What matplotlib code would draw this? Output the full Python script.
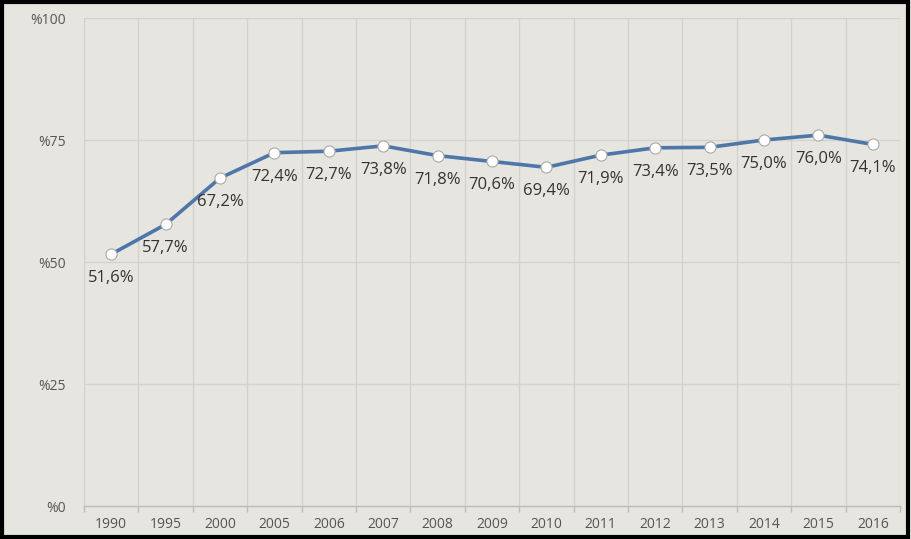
import matplotlib
matplotlib.use("Agg")
import matplotlib.pyplot as plt
from matplotlib.patches import Rectangle
from matplotlib.ticker import FixedLocator, FuncFormatter

# share of the population, one value per year
YEARS = ["1990", "1995", "2000", "2005", "2006", "2007", "2008", "2009",
         "2010", "2011", "2012", "2013", "2014", "2015", "2016"]
SHARE = [51.6, 57.7, 67.2, 72.4, 72.7, 73.8, 71.8, 70.6,
         69.4, 71.9, 73.4, 73.5, 75.0, 76.0, 74.1]
Y_TICKS = [0, 25, 50, 75, 100]

BACKGROUND = "#e6e5df"
GRID = "#d3d3cd"
LINE = "#4f76a9"
TEXT = "#333333"
AXIS_TEXT = "#555555"

plt.rcParams["font.family"] = ["Open Sans", "DejaVu Sans"]


def main():
    fig = plt.figure(figsize=(9.12, 5.39), dpi=100, facecolor=BACKGROUND)
    ax = fig.add_axes([84 / 912, 33 / 539, 816 / 912, 488 / 539])
    ax.set_facecolor(BACKGROUND)

    x = list(range(len(YEARS)))
    ax.plot(x, SHARE, color=LINE, linewidth=2.6, zorder=3,
            marker="o", markersize=8, markerfacecolor="white",
            markeredgecolor="#a9a9a9", markeredgewidth=0.8)

    # value labels sit just under each point, with a decimal comma
    for xi, value in zip(x, SHARE):
        label = f"{value:.1f}%".replace(".", ",")
        ax.annotate(label, (xi, value), xytext=(0, -24), textcoords="offset pixels",
                    ha="center", va="center", fontsize=12, color=TEXT, zorder=4)

    ax.set_xlim(-0.5, len(YEARS) - 0.5)
    ax.set_ylim(0, 100)

    ax.set_xticks(x)
    ax.set_xticklabels(YEARS)
    ax.xaxis.set_minor_locator(FixedLocator([i - 0.5 for i in range(len(YEARS) + 1)]))
    ax.tick_params(axis="x", which="major", length=0, pad=8,
                   labelsize=10, labelcolor=AXIS_TEXT)
    ax.tick_params(axis="x", which="minor", length=4, width=1, color="#bdbdb7")

    ax.set_yticks(Y_TICKS)
    ax.yaxis.set_major_formatter(FuncFormatter(lambda v, _: f"%{v:.0f}"))
    ax.tick_params(axis="y", length=0, pad=13, labelsize=10, labelcolor=AXIS_TEXT)

    ax.grid(axis="y", which="major", color=GRID, linewidth=1)
    ax.grid(axis="x", which="minor", color=GRID, linewidth=1)
    ax.set_axisbelow(True)

    for side in ("top", "right", "left"):
        ax.spines[side].set_visible(False)
    ax.spines["bottom"].set_color("#bdbdb7")
    ax.spines["bottom"].set_linewidth(1)

    # dark frame around the whole figure
    fig.patches.append(Rectangle((0.002, 0.004), 0.994, 0.992, transform=fig.transFigure,
                                 fill=False, edgecolor="black", linewidth=3))

    fig.savefig("out.png", dpi=100, facecolor=BACKGROUND)
    plt.close(fig)


if __name__ == "__main__":
    main()
